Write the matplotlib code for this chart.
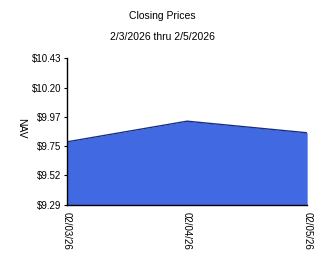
import matplotlib
matplotlib.use("Agg")
import matplotlib.pyplot as plt

plt.rcParams['font.family'] = ['Liberation Sans', 'DejaVu Sans']

# data
dates = ['02/03/26', '02/04/26', '02/05/26']
nav = [9.78, 9.94, 9.85]
yticks = [9.29, 9.52, 9.75, 9.97, 10.20, 10.43]
ytick_labels = ['$9.29', '$9.52', '$9.75', '$9.97', '$10.20', '$10.43']

fig = plt.figure(figsize=(3.24, 2.67), dpi=100)
ax = fig.add_axes([0.207, 0.232, 0.741, 0.551])

x = list(range(len(dates)))
ax.fill_between(x, yticks[0], nav, color='#4169E1', linewidth=0)
ax.plot(x, nav, color='#1a2f80', linewidth=1)

ax.set_xlim(0, len(dates) - 1)
ax.set_ylim(yticks[0], yticks[-1])
ax.set_yticks(yticks)
ax.set_yticklabels(ytick_labels, fontsize=7)
ax.set_xticks(x)
ax.set_xticklabels(dates, rotation=270, fontsize=7)
ax.tick_params(axis='y', length=2, width=0.8, pad=2)
ax.tick_params(axis='x', length=0, pad=5)

for s in ['top', 'right']:
    ax.spines[s].set_visible(False)
for s in ['left', 'bottom']:
    ax.spines[s].set_linewidth(1)

ax.set_ylabel('NAV', rotation=270, fontsize=7.5, va='center', ha='center')
ax.yaxis.set_label_coords(-0.19, 0.52)

fig.text(0.5, 0.94, 'Closing Prices', ha='center', va='center', fontsize=7.5)
fig.text(0.5, 0.862, '2/3/2026 thru 2/5/2026', ha='center', va='center', fontsize=7.5)

fig.savefig('out.png', dpi=100)
